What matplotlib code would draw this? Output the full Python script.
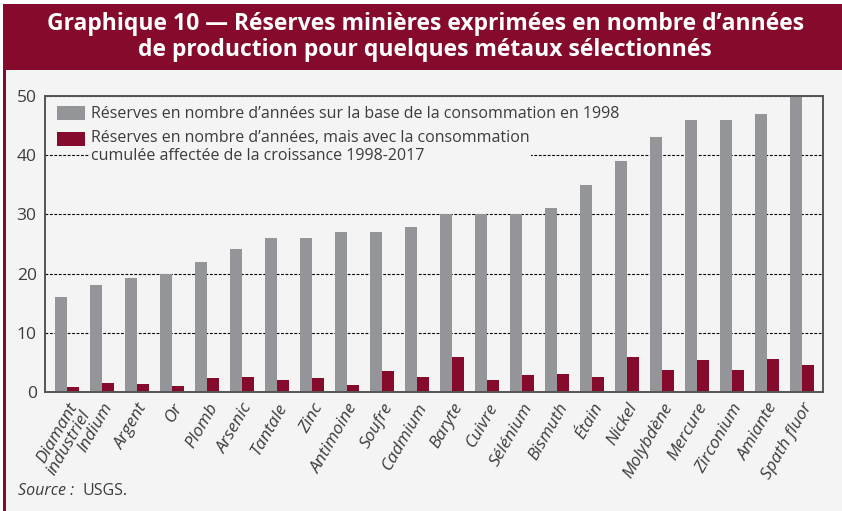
import matplotlib.pyplot as plt
import matplotlib.patches as mpatches
import numpy as np

# Data
metaux = ["Diamant\nindustriel", "Indium", "Argent", "Or", "Plomb", "Arsenic",
          "Tantale", "Zinc", "Antimoine", "Soufre", "Cadmium", "Baryte",
          "Cuivre", "Sélénium", "Bismuth", "Étain", "Nickel", "Molybdène",
          "Mercure", "Zirconium", "Amiante", "Spath fluor"]
conso_1998 = [16, 18, 19.2, 20, 22, 24.2, 26, 26, 27, 27, 27.9, 30,
              30, 30, 31, 35, 39, 43, 46, 46, 47, 50]
conso_croissance = [0.8, 1.6, 1.3, 1.0, 2.3, 2.6, 2.1, 2.3, 1.1, 3.5, 2.5, 5.9,
                    2.1, 2.8, 3.0, 2.6, 5.9, 3.8, 5.4, 3.8, 5.5, 4.5]
yticks = [0, 10, 20, 30, 40, 50]

label_1998 = "Réserves en nombre d’années sur la base de la consommation en 1998"
label_croiss = ("Réserves en nombre d’années, mais avec la consommation\n"
                "cumulée affectée de la croissance 1998-2017")

GRAY = "#939598"
RED = "#850a2b"
BG = "#f4f4f4"
TXT = "#3c3c3c"

plt.rcParams['font.family'] = ['Open Sans', 'DejaVu Sans']

W, H = 842, 511
fig = plt.figure(figsize=(W / 100, H / 100), dpi=100, facecolor="white")

# panel background, left border and title band
fig.patches.append(mpatches.Rectangle((6 / W, 0), 1 - 6 / W, 1 - 70 / H,
                                      transform=fig.transFigure, facecolor=BG,
                                      edgecolor="none", zorder=0))
fig.patches.append(mpatches.Rectangle((3 / W, 0), 3 / W, 1 - 70 / H,
                                      transform=fig.transFigure, facecolor=RED,
                                      edgecolor="none", zorder=0))
fig.patches.append(mpatches.Rectangle((3 / W, 1 - 70 / H), 1, 66 / H,
                                      transform=fig.transFigure, facecolor=RED,
                                      edgecolor="none", zorder=0))
fig.text(0.505, 1 - 37 / H,
         "Graphique 10 — Réserves minières exprimées en nombre d’années\n"
         "de production pour quelques métaux sélectionnés",
         ha="center", va="center", color="white", fontsize=16.5,
         fontweight="bold", linespacing=1.1)

ax = fig.add_axes([45 / W, 1 - 392 / H, (823 - 45) / W, (392 - 96) / H])
ax.set_zorder(3)
ax.set_facecolor(BG)

x = np.arange(len(metaux))
w = 0.34
ax.bar(x - w / 2, conso_1998, width=w, color=GRAY, label=label_1998, zorder=2)
ax.bar(x + w / 2, conso_croissance, width=w, color=RED, label=label_croiss, zorder=2)

ax.set_xlim(-0.63, len(metaux) - 0.4)
ax.set_ylim(0, 50)
ax.set_yticks(yticks)
ax.set_xticks(x)
ax.set_xticklabels(metaux, rotation=60, ha="right", rotation_mode="anchor",
                   style="italic", fontsize=12, color=TXT, linespacing=0.9)
ax.tick_params(axis="both", length=0, labelsize=12.5, colors=TXT)
ax.tick_params(axis="x", pad=6)
ax.tick_params(axis="y", pad=6)

ax.yaxis.grid(True, linestyle=(0, (2.5, 1.5)), color="black", linewidth=0.8, zorder=1)
ax.set_axisbelow(True)
for s in ax.spines.values():
    s.set_color("#555555")
    s.set_linewidth(1.4)

leg = ax.legend(loc="upper left", bbox_to_anchor=(0.0, 1.008), frameon=False,
                fontsize=11.5, handlelength=1.75, handleheight=1.05,
                handletextpad=0.4, labelspacing=0.45, borderaxespad=0.35,
                labelcolor=TXT)
leg.set_zorder(5)
leg.get_texts()[1].set_bbox(dict(facecolor=BG, edgecolor="none", pad=1))
# align the red swatch with the first line of its two-line label
red_handle = leg.legend_handles[1]
red_handle.set_y(red_handle.get_y() + 6)

fig.text(18 / W, 1 - 491 / H, "Source :", style="italic", fontsize=11.5,
         color=TXT, va="center", ha="left")
fig.text(82 / W, 1 - 491 / H, "USGS.", fontsize=11.5, color=TXT, va="center", ha="left")

fig.savefig("out.png", dpi=100, facecolor=fig.get_facecolor())
